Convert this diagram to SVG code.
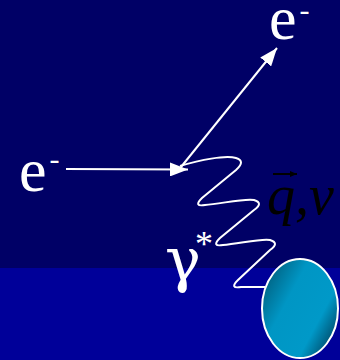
<svg xmlns="http://www.w3.org/2000/svg" width="340" height="360" viewBox="0 0 340 360">
<style>
.lbl{fill:#fff;font-family:"Liberation Serif","Times New Roman",serif}
.blk{fill:#000;font-style:italic;font-family:"Liberation Serif","Times New Roman",serif}
.conn{stroke:#fff;stroke-width:2;fill:none}
</style>
<defs>
<marker id="ah" markerUnits="userSpaceOnUse" markerWidth="18" markerHeight="14" refX="18" refY="7" orient="auto">
<path d="M0,0 L18,7 L0,14 z" fill="#fff"/>
</marker>
<marker id="ahs" markerUnits="userSpaceOnUse" markerWidth="7" markerHeight="6" refX="7" refY="3" orient="auto">
<path d="M0,0 L7,3 L0,6 z" fill="#000"/>
</marker>
<linearGradient id="tg" x1="0" y1="0.15" x2="1" y2="0.85">
<stop offset="0" stop-color="#005a78"/>
<stop offset="0.35" stop-color="#0096c4"/>
<stop offset="0.72" stop-color="#0099c8"/>
<stop offset="1" stop-color="#003c58"/>
</linearGradient>
</defs>
<rect x="0" y="0" width="340" height="268" fill="#000066"/>
<rect x="0" y="268" width="340" height="92" fill="#000099"/>
<g id="connectors">
<line class="conn" x1="66" y1="169" x2="188" y2="169.5" marker-end="url(#ah)"/>
<line class="conn" x1="181" y1="167" x2="277" y2="48" marker-end="url(#ah)"/>
<path id="photon" class="conn" stroke-width="2.3" d="M180,166 C200,160 225,155 236,158 Q246,161 236,170 L202,198 Q193,207 205,205 C220,204 245,198 254,200 Q264,203 254,210 L220,238 Q211,247 223,245 C238,244 262,238 270,240 Q280,243 270,250 L238,280 Q229,289 241,287 L265,287"/>
</g>
<g id="e_in">
<text class="lbl" x="19" y="191" font-size="62">e<tspan font-size="30" dx="3" dy="-22">-</tspan></text>
</g>
<g id="e_out">
<text class="lbl" x="269" y="39" font-size="62">e<tspan font-size="30" dx="3" dy="-19">-</tspan></text>
</g>
<g id="gamma">
<text class="lbl" x="165" y="281" font-size="60" style="font-family:'DejaVu Serif',serif">γ<tspan x="195" y="256" font-size="36" style="font-family:'Liberation Serif',serif">*</tspan></text>
</g>
<g id="qnu">
<text class="blk" x="267" y="214" font-size="56">q,ν</text>
<line x1="273" y1="174" x2="297" y2="174" stroke="#000" stroke-width="2" marker-end="url(#ahs)"/>
</g>
<g id="target">
<ellipse cx="300" cy="308.5" rx="38" ry="49.5" fill="url(#tg)" stroke="#fff" stroke-width="2"/>
</g>
</svg>
